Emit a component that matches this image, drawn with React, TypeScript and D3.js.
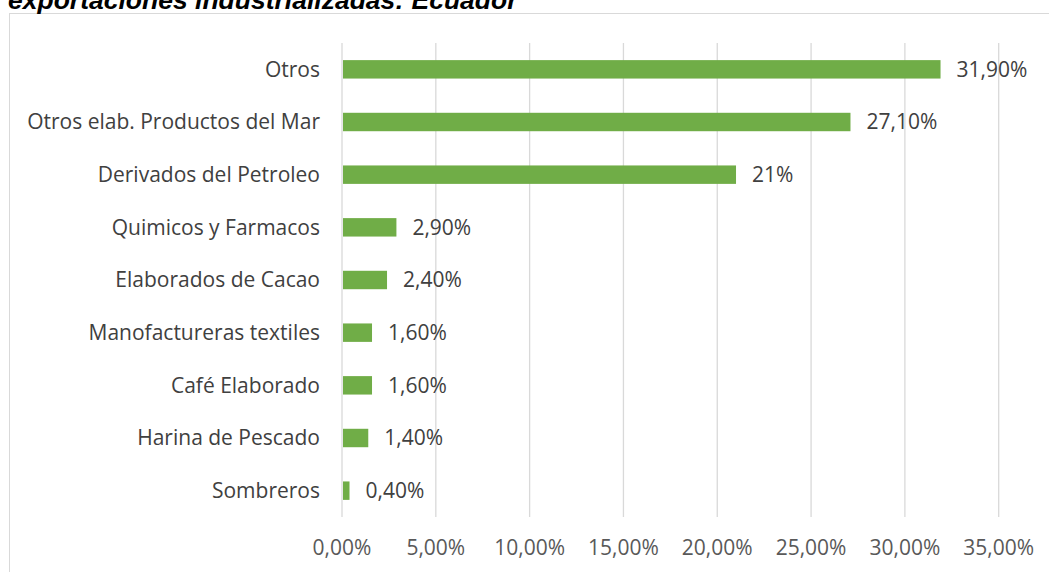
import { useEffect, useRef } from 'react'
import * as d3 from 'd3'

const categories = ['Otros', 'Otros elab. Productos del Mar', 'Derivados del Petroleo', 'Quimicos y Farmacos', 'Elaborados de Cacao', 'Manofactureras textiles', 'Café Elaborado', 'Harina de Pescado', 'Sombreros']
const values = [31.9, 27.1, 21, 2.9, 2.4, 1.6, 1.6, 1.4, 0.4]
const valueLabels = ['31,90%', '27,10%', '21%', '2,90%', '2,40%', '1,60%', '1,60%', '1,40%', '0,40%']
const ticks = [0, 5, 10, 15, 20, 25, 30, 35]
const tickLabels = ['0,00%', '5,00%', '10,00%', '15,00%', '20,00%', '25,00%', '30,00%', '35,00%']

const W = 1049, H = 572
const FONT = "'Open Sans', sans-serif"
const FS = 21

export default function App() {
  const svgRef = useRef<SVGSVGElement>(null)

  useEffect(() => {
    const svg = d3.select(svgRef.current)
    svg.selectAll('*').remove()

    // chart frame (clipped by the crop on right and bottom)
    svg.append('rect').attr('x', 9.5).attr('y', 13.5).attr('width', 1100).attr('height', 700)
      .attr('fill', '#fff').attr('stroke', '#d9d9d9').attr('stroke-width', 1)

    // title, cut off at the top in the source
    svg.append('text').attr('x', 8).attr('y', 9)
      .attr('font-family', "'Liberation Sans', Arial, sans-serif").attr('font-weight', 'bold').attr('font-style', 'italic')
      .attr('font-size', 26.5).attr('fill', '#000').text('exportaciones industrializadas: Ecuador')

    const x = d3.scaleLinear().domain([0, 35]).range([342, 998.7])
    const y = d3.scaleBand().domain(categories).range([43, 517]).paddingInner(0.65).paddingOuter(0.325)

    // grid
    svg.append('g').selectAll('line').data(ticks).join('line')
      .attr('x1', d => x(d)).attr('x2', d => x(d)).attr('y1', 43).attr('y2', 517)
      .attr('stroke', '#d9d9d9').attr('stroke-width', 1.3)

    // tick labels
    svg.append('g').selectAll('text').data(ticks).join('text')
      .attr('x', d => x(d)).attr('y', 548).attr('dy', '0.35em').attr('text-anchor', 'middle')
      .attr('font-family', FONT).attr('font-size', FS).attr('fill', '#595959')
      .text((_, i) => tickLabels[i])

    // bars
    svg.append('g').selectAll('rect').data(values).join('rect')
      .attr('x', x(0) + 1).attr('y', (_, i) => y(categories[i])!)
      .attr('width', d => x(d) - x(0) - 1).attr('height', y.bandwidth())
      .attr('fill', '#70ad47')

    // category labels
    svg.append('g').selectAll('text').data(categories).join('text')
      .attr('x', 320).attr('y', d => y(d)! + y.bandwidth() / 2).attr('dy', '0.35em').attr('text-anchor', 'end')
      .attr('font-family', FONT).attr('font-size', FS).attr('fill', '#404040')
      .text(d => d)

    // value labels
    svg.append('g').selectAll('text').data(values).join('text')
      .attr('x', d => x(d) + 16).attr('y', (_, i) => y(categories[i])! + y.bandwidth() / 2).attr('dy', '0.35em')
      .attr('font-family', FONT).attr('font-size', FS).attr('fill', '#404040')
      .text((_, i) => valueLabels[i])
  }, [])

  return <svg ref={svgRef} width={W} height={H} style={{ position: 'absolute', left: 0, top: 0, background: '#fff' }} />
}
